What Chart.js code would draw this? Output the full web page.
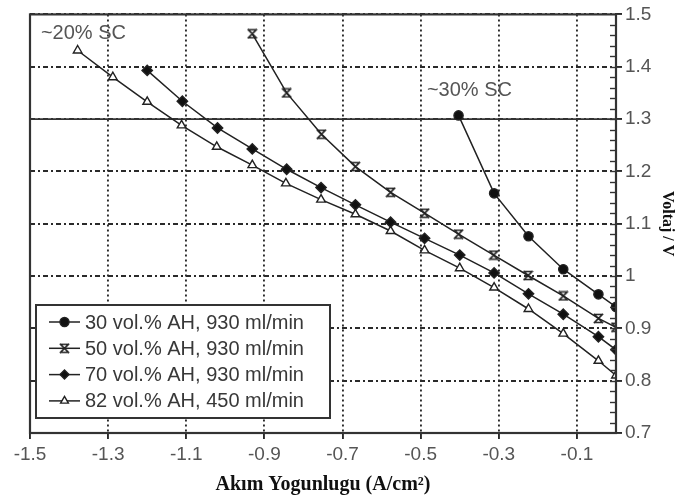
<!DOCTYPE html>
<html>
<head>
<meta charset="utf-8">
<script src="https://cdn.jsdelivr.net/npm/chart.js@4/dist/chart.umd.min.js"></script>
<style>
  html, body { margin: 0; padding: 0; background: #fff; }
  #wrap { width: 685px; height: 499px; }
</style>
</head>
<body>
<div id="wrap"><canvas id="c"></canvas></div>
<script>
// Polarization curves: cell voltage vs. current density
const seriesNames = [
  '30 vol.% AH, 930 ml/min',
  '50 vol.% AH, 930 ml/min',
  '70 vol.% AH, 930 ml/min',
  '82 vol.% AH, 450 ml/min'
];

const x30 = [-0.403, -0.312, -0.224, -0.135, -0.045, 0];
const v30 = [1.307, 1.158, 1.076, 1.013, 0.965, 0.941];

const x50 = [-0.931, -0.843, -0.754, -0.667, -0.577, -0.490, -0.403, -0.313, -0.225, -0.135, -0.045, 0];
const v50 = [1.463, 1.350, 1.271, 1.209, 1.160, 1.120, 1.080, 1.040, 1.001, 0.962, 0.919, 0.902];

const x70 = [-1.200, -1.110, -1.020, -0.931, -0.843, -0.755, -0.667, -0.577, -0.490, -0.400, -0.312, -0.224, -0.135, -0.045, 0];
const v70 = [1.393, 1.334, 1.283, 1.243, 1.204, 1.169, 1.136, 1.103, 1.072, 1.040, 1.006, 0.966, 0.927, 0.884, 0.859];

const x82 = [-1.378, -1.288, -1.200, -1.112, -1.022, -0.931, -0.845, -0.755, -0.667, -0.577, -0.490, -0.400, -0.312, -0.224, -0.135, -0.045, 0];
const v82 = [1.431, 1.380, 1.333, 1.288, 1.247, 1.212, 1.177, 1.146, 1.118, 1.086, 1.049, 1.015, 0.978, 0.937, 0.890, 0.838, 0.810];

const xTicks = [-1.5, -1.3, -1.1, -0.9, -0.7, -0.5, -0.3, -0.1];
const yTicks = [0.7, 0.8, 0.9, 1.0, 1.1, 1.2, 1.3, 1.4, 1.5];

const notes = ['~20% SC', '~30% SC'];

const INK = '#222';
const SANS = '"Liberation Sans", Arial, sans-serif';
const SERIF = '"Liberation Serif", "Times New Roman", serif';

// X-shaped marker with short caps top and bottom
function cappedCross(size) {
  const c = document.createElement('canvas');
  c.width = size; c.height = size;
  const g = c.getContext('2d');
  g.strokeStyle = INK; g.lineWidth = 1.7; g.lineCap = 'square';
  const p = 1.5, q = size - 1.5, m = size / 2;
  g.beginPath();
  g.moveTo(p, p); g.lineTo(q, q);
  g.moveTo(q, p); g.lineTo(p, q);
  g.moveTo(m - 3.5, p); g.lineTo(m + 3.5, p);
  g.moveTo(m - 3.5, q); g.lineTo(m + 3.5, q);
  g.stroke();
  return c;
}
const crossMark = cappedCross(11);

function pts(xs, ys) { return xs.map((x, i) => ({ x: x, y: ys[i] })); }

const styles = [
  { pointStyle: 'circle',   pointRadius: 4.6, pointBackgroundColor: '#111' },
  { pointStyle: crossMark,  pointRadius: 5,   pointBackgroundColor: '#111' },
  { pointStyle: 'rectRot',  pointRadius: 5.2, pointBackgroundColor: '#111' },
  { pointStyle: 'triangle', pointRadius: 5,   pointBackgroundColor: '#fff' }
];
const seriesData = [pts(x30, v30), pts(x50, v50), pts(x70, v70), pts(x82, v82)];

const datasets = seriesData.map((d, i) => Object.assign({
  label: seriesNames[i],
  data: d,
  showLine: true,
  tension: 0,
  borderColor: INK,
  borderWidth: 1.5,
  pointBorderColor: INK,
  pointBorderWidth: 1.4
}, styles[i]));

const decor = {
  id: 'decor',
  beforeDatasetsDraw(chart) {
    const { ctx, chartArea: a, scales: { y } } = chart;
    // solid reference line at 1.3 V
    ctx.save();
    ctx.strokeStyle = '#333';
    ctx.lineWidth = 1.8;
    ctx.beginPath();
    const py = y.getPixelForValue(1.3);
    ctx.moveTo(a.left, py); ctx.lineTo(a.right, py);
    ctx.stroke();
    ctx.restore();
  },
  afterDatasetsDraw(chart) {
    const { ctx, chartArea: a, scales: { x, y } } = chart;
    ctx.save();
    // frame
    ctx.strokeStyle = '#333';
    ctx.lineWidth = 2.2;
    ctx.strokeRect(a.left, a.top, a.right - a.left, a.bottom - a.top);
    // minor ticks on the voltage axis
    ctx.lineWidth = 1.4;
    for (let k = 36; k <= 74; k++) {
      const py = Math.round(y.getPixelForValue(k / 50)) + 0.5;
      ctx.beginPath();
      ctx.moveTo(a.right - 6, py); ctx.lineTo(a.right, py);
      ctx.stroke();
    }
    // curve annotations
    ctx.fillStyle = '#555';
    ctx.font = '20px ' + SANS;
    ctx.textAlign = 'left';
    ctx.textBaseline = 'middle';
    ctx.fillText(notes[0], x.getPixelForValue(-1.472), y.getPixelForValue(1.464));
    ctx.fillText(notes[1], x.getPixelForValue(-0.484), y.getPixelForValue(1.354));
    ctx.restore();
  },
  afterDraw(chart) {
    const { ctx } = chart;
    const box = { l: 36, t: 305, r: 330, b: 418 };
    ctx.save();
    ctx.fillStyle = '#fff';
    ctx.fillRect(box.l, box.t, box.r - box.l, box.b - box.t);
    ctx.strokeStyle = '#333';
    ctx.lineWidth = 2;
    ctx.strokeRect(box.l, box.t, box.r - box.l, box.b - box.t);
    ctx.textBaseline = 'middle';
    ctx.textAlign = 'left';
    chart.data.datasets.forEach((ds, i) => {
      const cy = 322 + i * 26.3;
      ctx.strokeStyle = INK;
      ctx.lineWidth = 1.5;
      ctx.beginPath();
      ctx.moveTo(49, cy); ctx.lineTo(80, cy);
      ctx.stroke();
      ctx.fillStyle = ds.pointBackgroundColor;
      ctx.strokeStyle = INK;
      ctx.lineWidth = ds.pointBorderWidth;
      Chart.helpers.drawPoint(ctx, {
        pointStyle: ds.pointStyle,
        radius: Math.min(ds.pointRadius, 4.5),
        rotation: 0,
        borderWidth: ds.pointBorderWidth
      }, 64.5, cy);
      ctx.fillStyle = '#383838';
      ctx.font = '20px ' + SANS;
      ctx.fillText(ds.label, 85, cy + 1);
    });
    ctx.restore();
  }
};

new Chart(document.getElementById('c'), {
  type: 'scatter',
  data: { datasets: datasets },
  options: {
    responsive: true,
    maintainAspectRatio: false,
    animation: false,
    layout: { padding: { left: 30, top: 12, right: 0, bottom: 0 } },
    plugins: { legend: { display: false }, tooltip: { enabled: false } },
    scales: {
      x: {
        type: 'linear',
        min: -1.5, max: 0,
        afterBuildTicks: s => { s.ticks = xTicks.map(v => ({ value: v })); },
        afterFit: s => { s.height = 66; },
        grid: { color: '#2a2a2a', lineWidth: 1.9, tickLength: 6, tickBorderDash: [] },
        border: { display: false, dash: [2, 3] },
        ticks: {
          color: '#555', padding: 4, maxRotation: 0, autoSkip: false,
          font: { family: SANS, size: 19 },
          callback: v => String(v)
        },
        title: {
          display: true, text: 'Akım Yogunlugu (A/cm²)', color: '#111',
          font: { family: SERIF, size: 20, weight: 'bold' },
          padding: { top: 0, bottom: 2 }
        }
      },
      y: {
        type: 'linear', position: 'right',
        min: 0.7, max: 1.5,
        afterBuildTicks: s => { s.ticks = yTicks.map(v => ({ value: v })); },
        afterFit: s => { s.width = 69; },
        grid: { color: '#2a2a2a', lineWidth: 1.9, tickLength: 6, tickBorderDash: [] },
        border: { display: false, dash: [5, 3, 2, 3] },
        ticks: {
          color: '#555', padding: 3, autoSkip: false,
          font: { family: SANS, size: 19 },
          callback: v => String(v)
        },
        title: {
          display: true, text: 'Voltaj / V', color: '#111',
          font: { family: SERIF, size: 16, weight: 'bold' },
          padding: { top: 8, bottom: 0 }
        }
      }
    }
  },
  plugins: [decor]
});
</script>
</body>
</html>
